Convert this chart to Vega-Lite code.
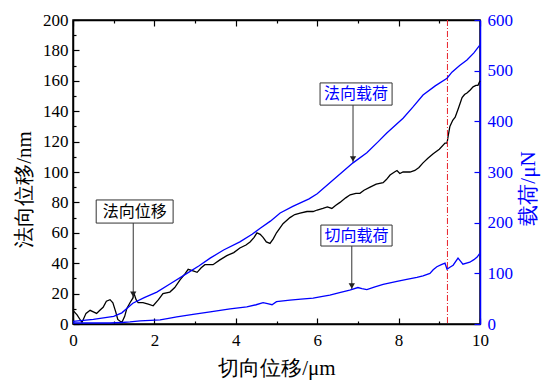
{
  "$schema": "https://vega.github.io/schema/vega-lite/v6.json",
  "width": 407,
  "height": 304,
  "autosize": {"type": "none"},
  "padding": {"left": 73, "top": 20, "right": 67, "bottom": 57},
  "background": "white",
  "config": {
    "view": {"stroke": "black", "strokeWidth": 1.5},
    "axis": {
      "labelFont": "Liberation Serif",
      "titleFont": "Liberation Serif",
      "titleFontWeight": "normal",
      "labelFontSize": 17,
      "labelColor": "black",
      "labelFlush": false,
      "labelPadding": 11,
      "titleFontSize": 21,
      "titleColor": "black",
      "domainColor": "black",
      "domainWidth": 1.5,
      "tickColor": "black",
      "tickWidth": 1.2,
      "tickSize": -6,
      "grid": false
    }
  },
  "datasets": {
    "disp": [
      {"x": 0, "nm": 9}, {"x": 0.1, "nm": 6}, {"x": 0.22, "nm": 1}, {"x": 0.32, "nm": 7}, {"x": 0.42, "nm": 9},
      {"x": 0.5, "nm": 8}, {"x": 0.58, "nm": 7}, {"x": 0.66, "nm": 9}, {"x": 0.74, "nm": 11}, {"x": 0.82, "nm": 15},
      {"x": 0.91, "nm": 16}, {"x": 0.98, "nm": 14}, {"x": 1.05, "nm": 8}, {"x": 1.1, "nm": 3}, {"x": 1.2, "nm": 1},
      {"x": 1.27, "nm": 5}, {"x": 1.32, "nm": 10}, {"x": 1.4, "nm": 14}, {"x": 1.47, "nm": 17}, {"x": 1.5, "nm": 20},
      {"x": 1.55, "nm": 16}, {"x": 1.6, "nm": 14}, {"x": 1.72, "nm": 14}, {"x": 1.85, "nm": 13}, {"x": 1.97, "nm": 12},
      {"x": 2.1, "nm": 16}, {"x": 2.21, "nm": 20}, {"x": 2.38, "nm": 21}, {"x": 2.5, "nm": 24}, {"x": 2.63, "nm": 29},
      {"x": 2.75, "nm": 33}, {"x": 2.83, "nm": 36}, {"x": 2.95, "nm": 35}, {"x": 3.05, "nm": 34}, {"x": 3.15, "nm": 37},
      {"x": 3.24, "nm": 39}, {"x": 3.44, "nm": 39}, {"x": 3.6, "nm": 42}, {"x": 3.78, "nm": 45}, {"x": 3.95, "nm": 47},
      {"x": 4.1, "nm": 50}, {"x": 4.25, "nm": 52}, {"x": 4.35, "nm": 54}, {"x": 4.45, "nm": 57}, {"x": 4.52, "nm": 60},
      {"x": 4.6, "nm": 59}, {"x": 4.67, "nm": 57}, {"x": 4.75, "nm": 54}, {"x": 4.84, "nm": 53}, {"x": 4.92, "nm": 56},
      {"x": 5.0, "nm": 60}, {"x": 5.16, "nm": 66}, {"x": 5.33, "nm": 70}, {"x": 5.45, "nm": 72}, {"x": 5.58, "nm": 73},
      {"x": 5.75, "nm": 74}, {"x": 5.9, "nm": 74}, {"x": 6.0, "nm": 75}, {"x": 6.14, "nm": 76}, {"x": 6.25, "nm": 77},
      {"x": 6.36, "nm": 76}, {"x": 6.45, "nm": 78}, {"x": 6.56, "nm": 80}, {"x": 6.7, "nm": 83}, {"x": 6.81, "nm": 85},
      {"x": 6.95, "nm": 86}, {"x": 7.05, "nm": 86}, {"x": 7.15, "nm": 88}, {"x": 7.3, "nm": 90}, {"x": 7.45, "nm": 92},
      {"x": 7.62, "nm": 93}, {"x": 7.7, "nm": 95}, {"x": 7.79, "nm": 98}, {"x": 7.9, "nm": 100}, {"x": 7.96, "nm": 101},
      {"x": 8.03, "nm": 99}, {"x": 8.11, "nm": 100}, {"x": 8.28, "nm": 100}, {"x": 8.4, "nm": 101}, {"x": 8.5, "nm": 103},
      {"x": 8.6, "nm": 106}, {"x": 8.72, "nm": 109}, {"x": 8.85, "nm": 112}, {"x": 9.0, "nm": 115}, {"x": 9.14, "nm": 119},
      {"x": 9.19, "nm": 119}, {"x": 9.22, "nm": 124}, {"x": 9.26, "nm": 130}, {"x": 9.33, "nm": 134}, {"x": 9.39, "nm": 136},
      {"x": 9.47, "nm": 142}, {"x": 9.56, "nm": 149}, {"x": 9.62, "nm": 151}, {"x": 9.68, "nm": 152}, {"x": 9.76, "nm": 154},
      {"x": 9.83, "nm": 156}, {"x": 9.9, "nm": 157}, {"x": 9.95, "nm": 157}, {"x": 10, "nm": 160}
    ],
    "load": [
      {"series": "法向载荷", "x": 0, "uN": 5}, {"series": "法向载荷", "x": 0.5, "uN": 9}, {"series": "法向载荷", "x": 1.0, "uN": 15},
      {"series": "法向载荷", "x": 1.2, "uN": 22}, {"series": "法向载荷", "x": 1.47, "uN": 41}, {"series": "法向载荷", "x": 1.75, "uN": 52},
      {"series": "法向载荷", "x": 2.06, "uN": 63}, {"series": "法向载荷", "x": 2.4, "uN": 80}, {"series": "法向载荷", "x": 2.8, "uN": 100},
      {"series": "法向载荷", "x": 3.1, "uN": 115}, {"series": "法向载荷", "x": 3.37, "uN": 130}, {"series": "法向载荷", "x": 3.7, "uN": 146},
      {"series": "法向载荷", "x": 4.1, "uN": 162}, {"series": "法向载荷", "x": 4.4, "uN": 177}, {"series": "法向载荷", "x": 4.6, "uN": 189},
      {"series": "法向载荷", "x": 4.85, "uN": 203}, {"series": "法向载荷", "x": 5.09, "uN": 219}, {"series": "法向载荷", "x": 5.4, "uN": 232},
      {"series": "法向载荷", "x": 5.8, "uN": 247}, {"series": "法向载荷", "x": 6.0, "uN": 257}, {"series": "法向载荷", "x": 6.39, "uN": 284},
      {"series": "法向载荷", "x": 6.88, "uN": 318}, {"series": "法向载荷", "x": 7.22, "uN": 338}, {"series": "法向载荷", "x": 7.5, "uN": 360},
      {"series": "法向载荷", "x": 7.71, "uN": 377}, {"series": "法向载荷", "x": 8.11, "uN": 406}, {"series": "法向载荷", "x": 8.35, "uN": 428},
      {"series": "法向载荷", "x": 8.6, "uN": 452}, {"series": "法向载荷", "x": 8.9, "uN": 470}, {"series": "法向载荷", "x": 9.19, "uN": 485},
      {"series": "法向载荷", "x": 9.31, "uN": 497}, {"series": "法向载荷", "x": 9.5, "uN": 510}, {"series": "法向载荷", "x": 9.68, "uN": 521},
      {"series": "法向载荷", "x": 9.85, "uN": 535}, {"series": "法向载荷", "x": 10, "uN": 551},
      {"series": "切向载荷", "x": 0, "uN": 2}, {"series": "切向载荷", "x": 0.5, "uN": 2}, {"series": "切向载荷", "x": 0.9, "uN": 2},
      {"series": "切向载荷", "x": 1.2, "uN": 3}, {"series": "切向载荷", "x": 1.4, "uN": 4}, {"series": "切向载荷", "x": 1.65, "uN": 6},
      {"series": "切向载荷", "x": 1.9, "uN": 7}, {"series": "切向载荷", "x": 2.14, "uN": 8}, {"series": "切向载荷", "x": 2.35, "uN": 11},
      {"series": "切向载荷", "x": 2.55, "uN": 14}, {"series": "切向载荷", "x": 2.95, "uN": 19}, {"series": "切向载荷", "x": 3.37, "uN": 24},
      {"series": "切向载荷", "x": 3.86, "uN": 30}, {"series": "切向载荷", "x": 4.27, "uN": 34}, {"series": "切向载荷", "x": 4.5, "uN": 38},
      {"series": "切向载荷", "x": 4.67, "uN": 42}, {"series": "切向载荷", "x": 4.78, "uN": 40}, {"series": "切向载荷", "x": 4.89, "uN": 38},
      {"series": "切向载荷", "x": 5.0, "uN": 44}, {"series": "切向载荷", "x": 5.33, "uN": 47}, {"series": "切向载荷", "x": 5.6, "uN": 49},
      {"series": "切向载荷", "x": 5.9, "uN": 51}, {"series": "切向载荷", "x": 6.1, "uN": 54}, {"series": "切向载荷", "x": 6.31, "uN": 57},
      {"series": "切向载荷", "x": 6.55, "uN": 62}, {"series": "切向载荷", "x": 6.8, "uN": 67}, {"series": "切向载荷", "x": 7.0, "uN": 72},
      {"series": "切向载荷", "x": 7.1, "uN": 70}, {"series": "切向载荷", "x": 7.22, "uN": 68}, {"series": "切向载荷", "x": 7.4, "uN": 73},
      {"series": "切向载荷", "x": 7.62, "uN": 78}, {"series": "切向载荷", "x": 7.96, "uN": 84}, {"series": "切向载荷", "x": 8.2, "uN": 88},
      {"series": "切向载荷", "x": 8.45, "uN": 92}, {"series": "切向载荷", "x": 8.6, "uN": 95}, {"series": "切向载荷", "x": 8.77, "uN": 100},
      {"series": "切向载荷", "x": 8.85, "uN": 107}, {"series": "切向载荷", "x": 8.94, "uN": 113}, {"series": "切向载荷", "x": 9.05, "uN": 117},
      {"series": "切向载荷", "x": 9.14, "uN": 120}, {"series": "切向载荷", "x": 9.19, "uN": 108}, {"series": "切向载荷", "x": 9.26, "uN": 112},
      {"series": "切向载荷", "x": 9.34, "uN": 116}, {"series": "切向载荷", "x": 9.46, "uN": 130}, {"series": "切向载荷", "x": 9.52, "uN": 124},
      {"series": "切向载荷", "x": 9.58, "uN": 118}, {"series": "切向载荷", "x": 9.75, "uN": 122}, {"series": "切向载荷", "x": 9.85, "uN": 127},
      {"series": "切向载荷", "x": 9.93, "uN": 132}, {"series": "切向载荷", "x": 10, "uN": 140}
    ],
    "notes": [
      {"label": "法向位移", "kind": "disp", "left": 0.57, "right": 2.46, "bottom": 66.4, "top": 81.6, "cx": 1.515, "cy": 74, "ax": 1.48, "tip": 17},
      {"label": "法向载荷", "kind": "load", "left": 6.07, "right": 7.84, "bottom": 144, "top": 158.6, "cx": 6.955, "cy": 151.3, "ax": 6.88, "tip": 106},
      {"label": "切向载荷", "kind": "load", "left": 6.09, "right": 7.84, "bottom": 51.3, "top": 65.1, "cx": 6.965, "cy": 58.2, "ax": 6.85, "tip": 22.4}
    ],
    "marker": [{"x": 9.2}]
  },
  "layer": [
    {
      "data": {"name": "disp"},
      "mark": {"type": "line", "color": "black", "strokeWidth": 1.3},
      "encoding": {
        "x": {"field": "x", "type": "quantitative", "scale": {"domain": [0, 10], "nice": false},
              "axis": {"orient": "bottom", "values": [0, 2, 4, 6, 8, 10], "labelFont": "Liberation Serif", "labelPadding": 14,
                       "title": "切向位移/μm", "titleFont": "Liberation Serif", "titleFontWeight": "normal", "titleBaseline": "alphabetic", "titleY": 50}},
        "y": {"field": "nm", "type": "quantitative", "scale": {"domain": [0, 200], "nice": false},
              "axis": {"orient": "left", "values": [0, 20, 40, 60, 80, 100, 120, 140, 160, 180, 200], "labelFont": "Liberation Serif",
                       "title": "法向位移/nm", "titleFont": "Liberation Serif", "titleFontWeight": "normal",
                       "titleAngle": -90, "titleBaseline": "middle", "titleAlign": "center", "titleX": -49, "titleY": 169}}
      }
    },
    {
      "data": {"name": "marker"},
      "mark": {"type": "rule", "color": "#e8202a", "strokeWidth": 1, "strokeDash": [6, 2, 1, 2]},
      "encoding": {"x": {"field": "x", "type": "quantitative", "axis": null}}
    },
    {
      "data": {"name": "notes"},
      "mark": {"type": "rect", "fill": "white", "stroke": "#333333", "strokeWidth": 1},
      "encoding": {
        "x": {"field": "left", "type": "quantitative",
              "axis": {"orient": "top", "values": [0, 2, 4, 6, 8, 10], "labels": false, "title": null}},
        "x2": {"field": "right"},
        "y": {"field": "bottom", "type": "quantitative", "scale": {"domain": [0, 200], "nice": false},
              "axis": {"orient": "left", "values": [10, 30, 50, 70, 90, 110, 130, 150, 170, 190], "labels": false, "domain": false, "tickSize": -3, "title": null}},
        "y2": {"field": "top"}
      }
    },
    {
      "data": {"name": "notes"},
      "mark": {"type": "rule", "color": "#333333", "strokeWidth": 1},
      "encoding": {
        "x": {"field": "ax", "type": "quantitative",
              "axis": {"orient": "top", "values": [1, 3, 5, 7, 9], "labels": false, "domain": false, "tickSize": -3, "title": null}},
        "y": {"field": "bottom", "type": "quantitative", "scale": {"domain": [0, 200], "nice": false}, "axis": null},
        "y2": {"field": "tip"}
      }
    },
    {
      "data": {"name": "notes"},
      "mark": {"type": "point", "shape": "triangle-down", "filled": true, "color": "#222222", "size": 40, "yOffset": -4, "opacity": 1},
      "encoding": {
        "x": {"field": "ax", "type": "quantitative",
              "axis": {"orient": "bottom", "values": [1, 3, 5, 7, 9], "labels": false, "domain": false, "tickSize": -3, "title": null}},
        "y": {"field": "tip", "type": "quantitative", "scale": {"domain": [0, 200], "nice": false}, "axis": null}
      }
    },
    {
      "data": {"name": "notes"},
      "mark": {"type": "text", "font": "Noto Sans CJK SC", "fontSize": 16, "baseline": "middle", "align": "center"},
      "encoding": {
        "x": {"field": "cx", "type": "quantitative", "axis": null},
        "y": {"field": "cy", "type": "quantitative", "scale": {"domain": [0, 200], "nice": false}, "axis": null},
        "text": {"field": "label"},
        "color": {"field": "kind", "type": "nominal", "scale": {"domain": ["disp", "load"], "range": ["black", "#0000ff"]}, "legend": null}
      }
    },
    {
      "data": {"name": "load"},
      "mark": {"type": "line", "color": "#0000ff", "strokeWidth": 1.3},
      "encoding": {
        "x": {"field": "x", "type": "quantitative", "axis": null},
        "y": {"field": "uN", "type": "quantitative", "scale": {"domain": [0, 600], "nice": false},
              "axis": {"orient": "right", "values": [0, 100, 200, 300, 400, 500, 600], "labelFont": "Liberation Serif", "labelPadding": 13,
                       "title": "载荷/μN", "titleFont": "Liberation Serif", "titleFontWeight": "normal",
                       "labelColor": "#0000ff", "titleColor": "#0000ff", "domainColor": "#0000ff", "tickColor": "#0000ff",
                       "titleAngle": -90, "titleBaseline": "middle", "titleAlign": "center", "titleX": 48, "titleY": 168}},
        "detail": {"field": "series", "type": "nominal"}
      }
    }
  ],
  "resolve": {"scale": {"y": "independent"}, "axis": {"x": "independent", "y": "independent"}}
}
